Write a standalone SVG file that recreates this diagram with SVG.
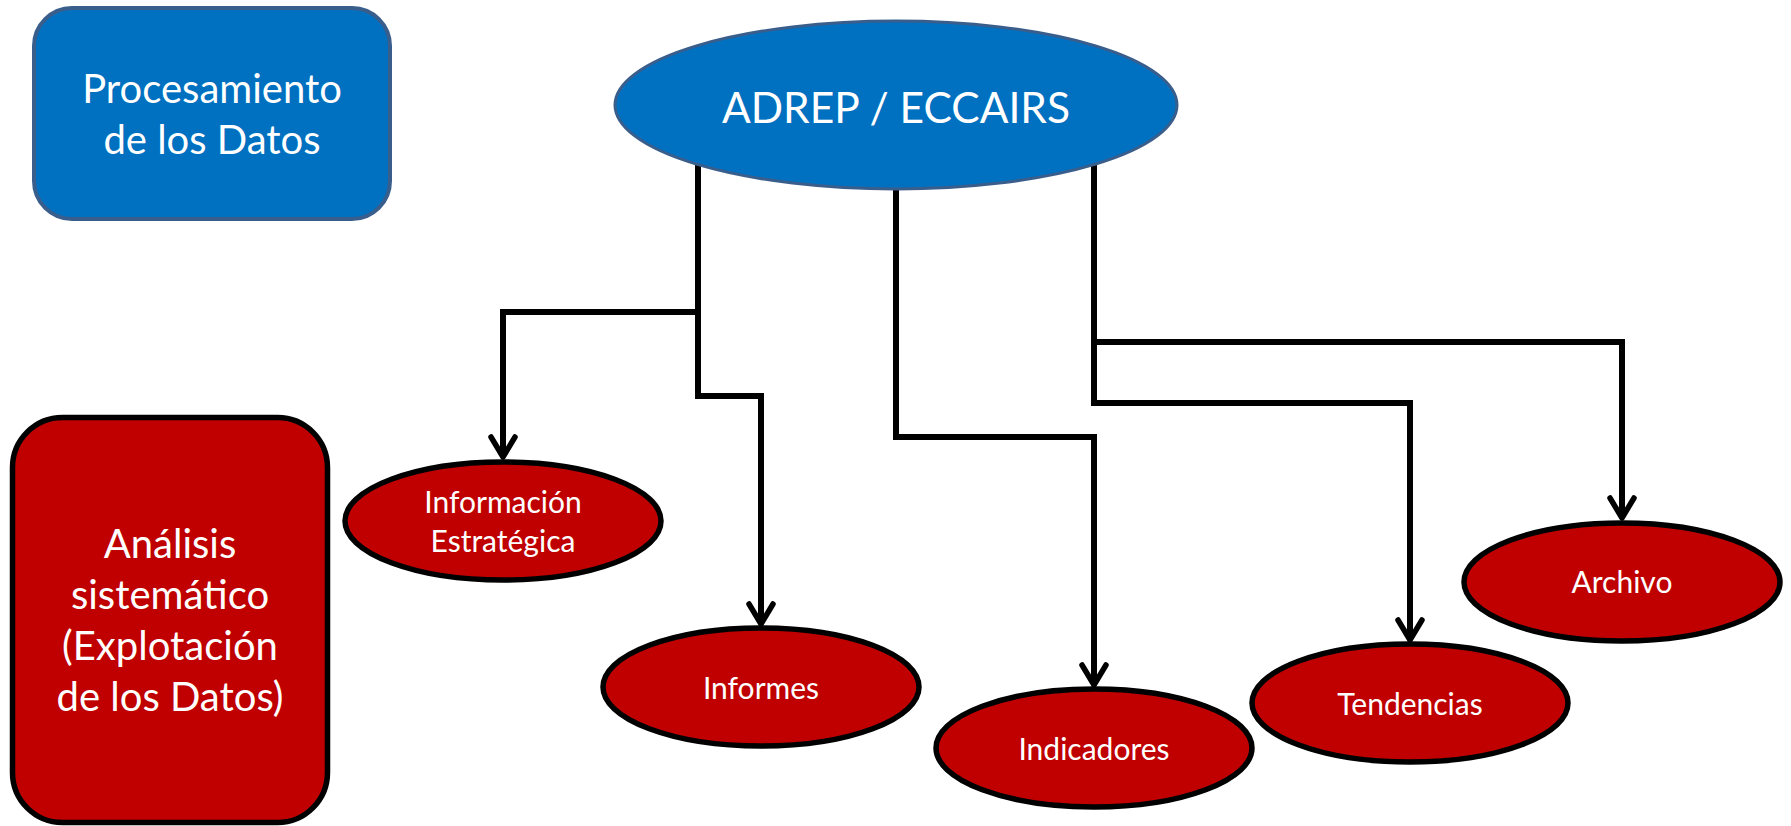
<svg xmlns="http://www.w3.org/2000/svg" width="1791" height="826" viewBox="0 0 1791 826">
<style>
.lbl{font-family:Lato,"Open Sans","Liberation Sans",sans-serif;fill:#fff;text-anchor:middle}
.big{font-size:40px}
.mid{font-size:42.5px}
.sm{font-size:30px}
.red{fill:#C00000;stroke:#000;stroke-width:5.5}
.blue{fill:#0070C0;stroke:#3A5E8C}
.conn{fill:none;stroke:#000;stroke-width:6;stroke-linejoin:miter}
</style>
<defs>
<marker id="arr" markerUnits="userSpaceOnUse" orient="auto" refX="0" refY="0" markerWidth="40" markerHeight="40" viewBox="-30 -20 40 40" overflow="visible">
<path d="M-20,-12 L0,0 L-20,12" fill="none" stroke="#000" stroke-width="5.5" stroke-linecap="round" stroke-linejoin="round"/>
</marker>
</defs>
<rect width="1791" height="826" fill="#fff"/>
<g id="connectors">
<path class="conn" d="M698,163 V396 H761 V624" marker-end="url(#arr)"/>
<path class="conn" d="M698,312 H503 V457" marker-end="url(#arr)"/>
<path class="conn" d="M896,189 V437 H1094 V685" marker-end="url(#arr)"/>
<path class="conn" d="M1094,163 V403 H1410 V640" marker-end="url(#arr)"/>
<path class="conn" d="M1094,342 H1622 V518" marker-end="url(#arr)"/>
</g>
<g id="procesamiento">
<rect class="blue" x="34" y="8" width="356" height="211" rx="38" stroke-width="4"/>
<text class="lbl big" x="212" y="103">Procesamiento</text>
<text class="lbl big" x="212" y="154">de los Datos</text>
</g>
<g id="adrep">
<ellipse class="blue" cx="896" cy="105" rx="281" ry="84" stroke-width="3"/>
<text class="lbl mid" x="896" y="123">ADREP / ECCAIRS</text>
</g>
<g id="analisis">
<rect class="red" x="12.5" y="417.5" width="315" height="405" rx="50"/>
<text class="lbl big" x="170" y="558">Análisis</text>
<text class="lbl big" x="170" y="609">sistemático</text>
<text class="lbl big" x="170" y="660">(Explotación</text>
<text class="lbl big" x="170" y="711">de los Datos)</text>
</g>
<g id="informacion">
<ellipse class="red" cx="503" cy="521" rx="158" ry="59"/>
<text class="lbl sm" x="503" y="513">Información</text>
<text class="lbl sm" x="503" y="552">Estratégica</text>
</g>
<g id="informes">
<ellipse class="red" cx="761" cy="687" rx="158" ry="59"/>
<text class="lbl sm" x="761" y="699">Informes</text>
</g>
<g id="indicadores">
<ellipse class="red" cx="1094" cy="748" rx="158" ry="59"/>
<text class="lbl sm" x="1094" y="760">Indicadores</text>
</g>
<g id="tendencias">
<ellipse class="red" cx="1410" cy="703" rx="158" ry="59"/>
<text class="lbl sm" x="1410" y="715">Tendencias</text>
</g>
<g id="archivo">
<ellipse class="red" cx="1622" cy="582" rx="158" ry="59"/>
<text class="lbl sm" x="1622" y="593">Archivo</text>
</g>
</svg>
